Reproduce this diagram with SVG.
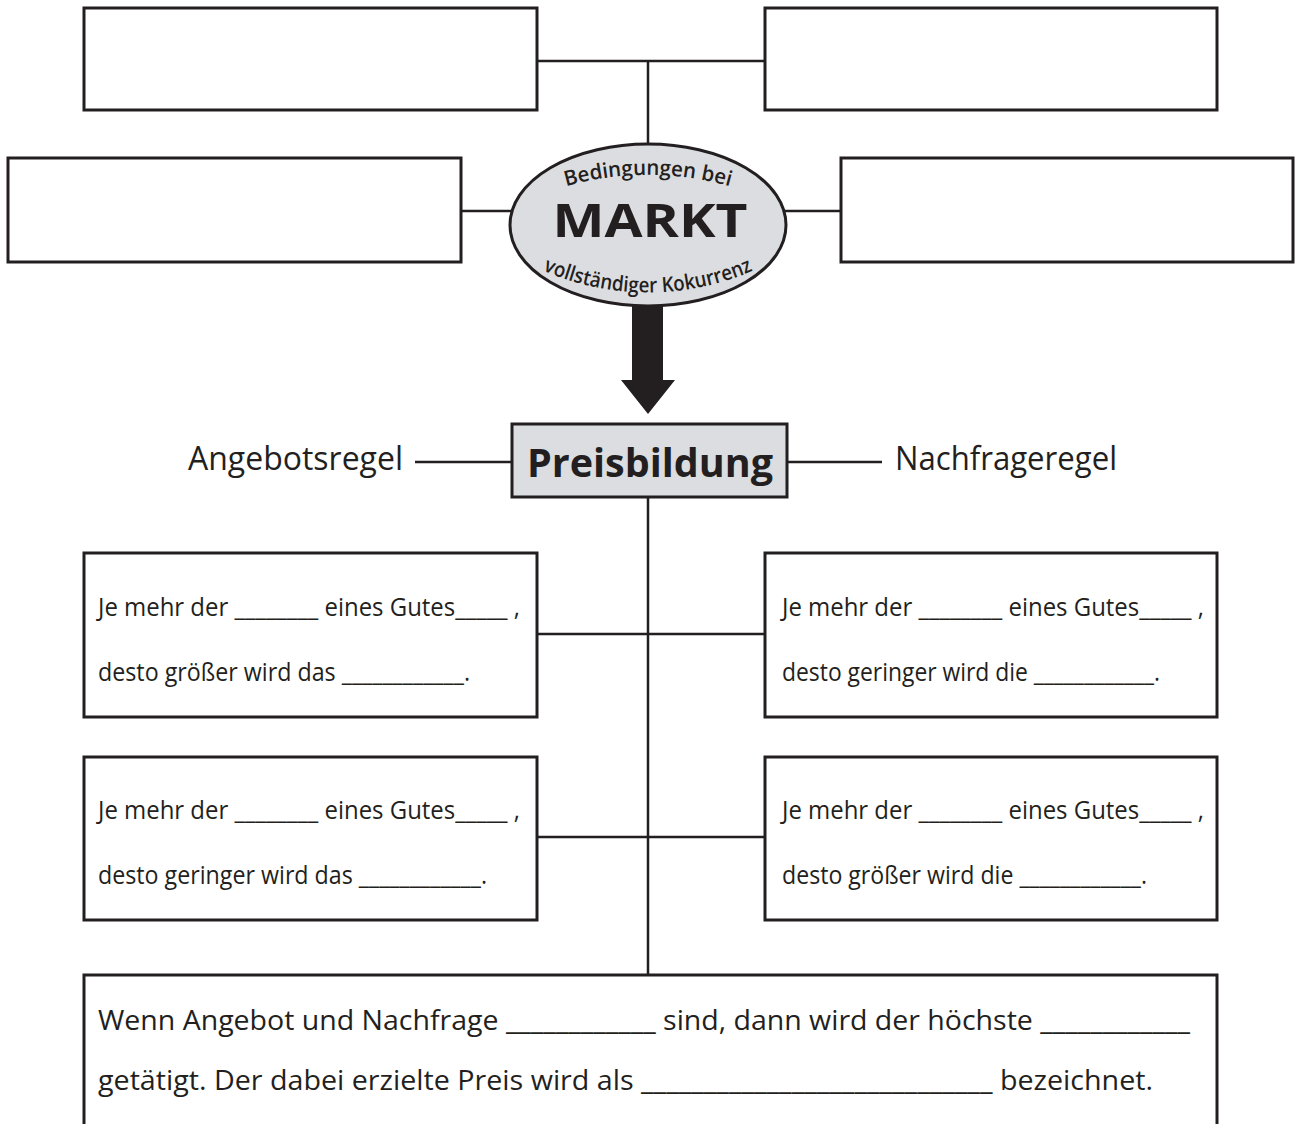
<svg xmlns="http://www.w3.org/2000/svg" width="1302" height="1124" viewBox="0 0 1302 1124">
<style>
.box{fill:#fff;stroke:#231f20;stroke-width:3}
.grey{fill:#dcdde0;stroke:#231f20;stroke-width:3}
.con{stroke:#231f20;stroke-width:2.5;fill:none}
text{font-family:"Open Sans","DejaVu Sans",sans-serif;fill:#231f20}
.t{font-size:26px}
.b{font-size:27px}
.lbl{font-size:33px}
</style>
<defs>
<path id="arcTop" d="M 548,192 A 300,300 0 0 1 748,192"/>
<path id="arcBot" d="M 533,266 A 263,263 0 0 0 763,266"/>
</defs>
<g id="connectors">
<line class="con" x1="537" y1="61" x2="765" y2="61"/>
<line class="con" x1="648" y1="61" x2="648" y2="145"/>
<line class="con" x1="461" y1="211" x2="511" y2="211"/>
<line class="con" x1="785" y1="211" x2="841" y2="211"/>
<line class="con" x1="415" y1="462" x2="512" y2="462"/>
<line class="con" x1="787" y1="462" x2="882" y2="462"/>
<line class="con" x1="648" y1="498" x2="648" y2="975"/>
<line class="con" x1="537" y1="634" x2="765" y2="634"/>
<line class="con" x1="537" y1="837" x2="765" y2="837"/>
<polygon points="632,306 663,306 663,380 675,380 648,414 621,380 632,380" fill="#231f20"/>
</g>
<g id="box-top-left"><rect class="box" x="84" y="8" width="453" height="102"/></g>
<g id="box-top-right"><rect class="box" x="765" y="8" width="452" height="102"/></g>
<g id="box-mid-left"><rect class="box" x="8" y="158" width="453" height="104"/></g>
<g id="box-mid-right"><rect class="box" x="841" y="158" width="452" height="104"/></g>
<g id="markt">
<ellipse class="grey" cx="648" cy="225" rx="138" ry="81" stroke-width="2.5"/>
<text font-size="21" font-weight="600"><textPath href="#arcTop" startOffset="50%" text-anchor="middle" textLength="166" lengthAdjust="spacingAndGlyphs">Bedingungen bei</textPath></text>
<text x="650" y="237" font-size="46" font-weight="700" text-anchor="middle" textLength="195" lengthAdjust="spacingAndGlyphs">MARKT</text>
<text font-size="21" font-weight="600"><textPath href="#arcBot" startOffset="50%" text-anchor="middle" textLength="216" lengthAdjust="spacingAndGlyphs">vollständiger Kokurrenz</textPath></text>
</g>
<g id="preisbildung">
<rect class="grey" x="512" y="424" width="275" height="73"/>
<text x="650" y="477" font-size="40" font-weight="700" text-anchor="middle" textLength="246" lengthAdjust="spacingAndGlyphs">Preisbildung</text>
</g>
<g id="angebotsregel"><text class="lbl" x="188" y="470" textLength="215" lengthAdjust="spacingAndGlyphs">Angebotsregel</text></g>
<g id="nachfrageregel"><text class="lbl" x="895" y="470" textLength="222" lengthAdjust="spacingAndGlyphs">Nachfrageregel</text></g>
<g id="box-r1-left">
<rect class="box" x="84" y="553" width="453" height="164"/>
<text class="t" x="98" y="616" textLength="422" lengthAdjust="spacingAndGlyphs">Je mehr der ________ eines Gutes_____ ,</text>
<text class="t" x="98" y="681" textLength="372" lengthAdjust="spacingAndGlyphs">desto größer wird das ____________.</text>
</g>
<g id="box-r1-right">
<rect class="box" x="765" y="553" width="452" height="164"/>
<text class="t" x="782" y="616" textLength="422" lengthAdjust="spacingAndGlyphs">Je mehr der ________ eines Gutes_____ ,</text>
<text class="t" x="782" y="681" textLength="378" lengthAdjust="spacingAndGlyphs">desto geringer wird die ____________.</text>
</g>
<g id="box-r2-left">
<rect class="box" x="84" y="757" width="453" height="163"/>
<text class="t" x="98" y="819" textLength="422" lengthAdjust="spacingAndGlyphs">Je mehr der ________ eines Gutes_____ ,</text>
<text class="t" x="98" y="884" textLength="389" lengthAdjust="spacingAndGlyphs">desto geringer wird das ____________.</text>
</g>
<g id="box-r2-right">
<rect class="box" x="765" y="757" width="452" height="163"/>
<text class="t" x="782" y="819" textLength="422" lengthAdjust="spacingAndGlyphs">Je mehr der ________ eines Gutes_____ ,</text>
<text class="t" x="782" y="884" textLength="365" lengthAdjust="spacingAndGlyphs">desto größer wird die ____________.</text>
</g>
<g id="box-bottom">
<rect class="box" x="84" y="975" width="1133" height="160"/>
<text class="b" x="98" y="1030" textLength="1092" lengthAdjust="spacingAndGlyphs">Wenn Angebot und Nachfrage ____________ sind, dann wird der höchste ____________</text>
<text class="b" x="98" y="1090" textLength="1055" lengthAdjust="spacingAndGlyphs">getätigt. Der dabei erzielte Preis wird als ____________________________ bezeichnet.</text>
</g>
</svg>
